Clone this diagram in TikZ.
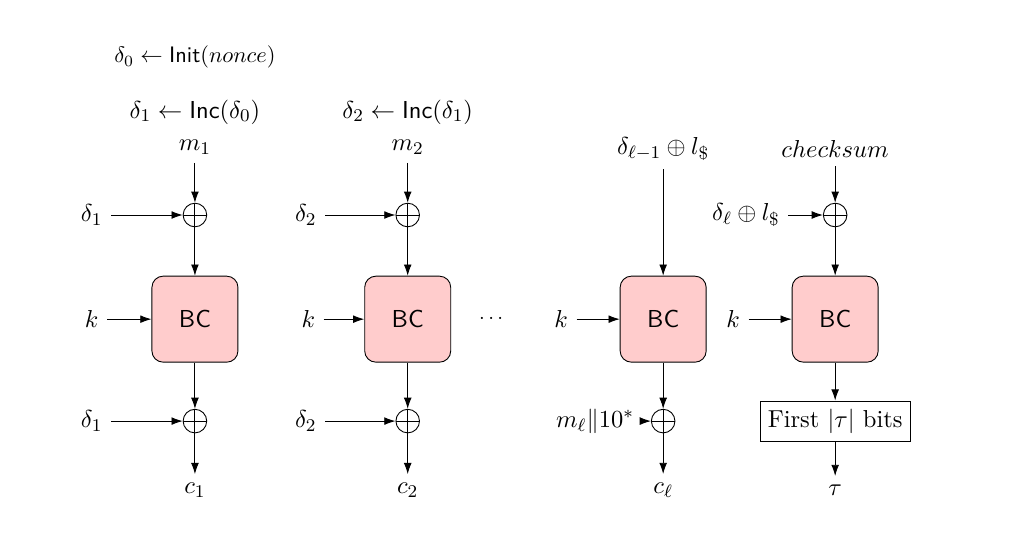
\documentclass[tikz,border=0pt,11pt]{standalone}
\usetikzlibrary{arrows.meta}
\begin{document}
\begin{tikzpicture}[
    bc/.style={draw, rounded corners=5pt, fill=red!20, minimum size=1.35cm, font=\sffamily},
    xor/.style={draw, circle, minimum size=0.37cm, inner sep=0pt,
        path picture={\draw (path picture bounding box.north) -- (path picture bounding box.south)
            (path picture bounding box.west) -- (path picture bounding box.east);}},
    arr/.style={-{Latex[length=5pt,width=3.5pt]}},
    tagbox/.style={draw, inner sep=3.5pt}
]
    \useasboundingbox (0,0) rectangle (16.2,-8.54);
    \node (init) at (3.06,-0.9) {\small $\delta_0 \leftarrow \textsf{Init}(nonce)$};
    \node (inc1) at (3.06,-1.76) {$\delta_1 \leftarrow \textsf{Inc}(\delta_0)$};
    \node (inc2) at (6.40,-1.76) {$\delta_2 \leftarrow \textsf{Inc}(\delta_1)$};

    \node (m1) at (3.06,-2.31) {$m_1$};
    \node[xor] (x1) at (3.06,-3.375) {};
    \node (d1) at (1.44,-3.375) {$\delta_1$};
    \node[bc] (bc1) at (3.06,-5.01) {BC};
    \node (k1) at (1.44,-5.01) {$k$};
    \node[xor] (y1) at (3.06,-6.61) {};
    \node (e1) at (1.44,-6.61) {$\delta_1$};
    \node (c1) at (3.06,-7.69) {$c_1$};

    \node (m2) at (6.40,-2.31) {$m_2$};
    \node[xor] (x2) at (6.40,-3.375) {};
    \node (d2) at (4.80,-3.375) {$\delta_2$};
    \node[bc] (bc2) at (6.40,-5.01) {BC};
    \node (k2) at (4.84,-5.01) {$k$};
    \node[xor] (y2) at (6.40,-6.61) {};
    \node (e2) at (4.80,-6.61) {$\delta_2$};
    \node (c2) at (6.40,-7.69) {$c_2$};

    \node (dots) at (7.71,-5.01) {\footnotesize $\cdots$};

    \node (dl) at (10.41,-2.34) {$\delta_{\ell-1} \oplus l_\$$};
    \node[bc] (bc3) at (10.41,-5.01) {BC};
    \node (k3) at (8.81,-5.01) {$k$};
    \node[xor] (y3) at (10.41,-6.61) {};
    \node (ml) at (9.34,-6.61) {$m_\ell \| 10^*$};
    \node (cl) at (10.41,-7.69) {$c_\ell$};

    \node (cs) at (13.11,-2.34) {$checksum$};
    \node[xor] (x4) at (13.11,-3.375) {};
    \node (d4) at (11.71,-3.375) {$\delta_\ell \oplus l_\$$};
    \node[bc] (bc4) at (13.11,-5.01) {BC};
    \node (k4) at (11.51,-5.01) {$k$};
    \node[tagbox] (tr) at (13.11,-6.61) {First $|\tau|$ bits};
    \node (tau) at (13.11,-7.69) {$\tau$};

    \draw[arr] (m1) -- (x1);
    \draw[arr] (d1) -- (x1);
    \draw[arr] (x1) -- (bc1);
    \draw[arr] (k1) -- (bc1);
    \draw[arr] (bc1) -- (y1);
    \draw[arr] (e1) -- (y1);
    \draw[arr] (y1) -- (c1);

    \draw[arr] (m2) -- (x2);
    \draw[arr] (d2) -- (x2);
    \draw[arr] (x2) -- (bc2);
    \draw[arr] (k2) -- (bc2);
    \draw[arr] (bc2) -- (y2);
    \draw[arr] (e2) -- (y2);
    \draw[arr] (y2) -- (c2);

    \draw[arr] (dl) -- (bc3);
    \draw[arr] (k3) -- (bc3);
    \draw[arr] (bc3) -- (y3);
    \draw[arr] (ml) -- (y3);
    \draw[arr] (y3) -- (cl);

    \draw[arr] (cs) -- (x4);
    \draw[arr] (d4) -- (x4);
    \draw[arr] (x4) -- (bc4);
    \draw[arr] (k4) -- (bc4);
    \draw[arr] (bc4) -- (tr);
    \draw[arr] (tr) -- (tau);
\end{tikzpicture}
\end{document}
